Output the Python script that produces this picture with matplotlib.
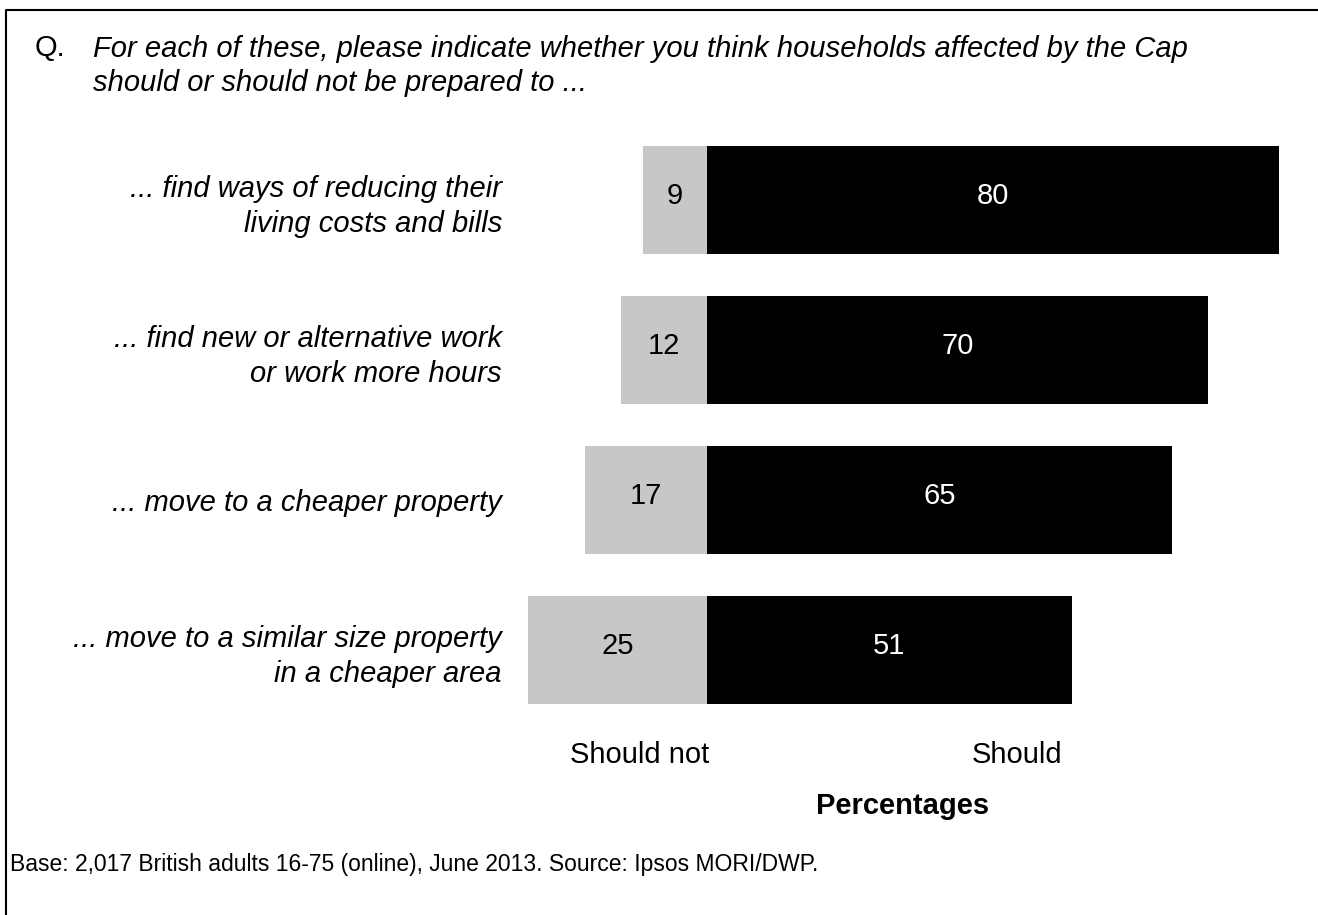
import matplotlib.pyplot as plt
from matplotlib import font_manager
from matplotlib.lines import Line2D

# Survey results (percent)
statements = [
    "... find ways of reducing their\nliving costs and bills",
    "... find new or alternative work\nor work more hours",
    "... move to a cheaper property",
    "... move to a similar size property\nin a cheaper area",
]
should_not = [9, 12, 17, 25]
should = [80, 70, 65, 51]

question = "For each of these, please indicate whether you think households affected by the Cap\nshould or should not be prepared to ..."
footnote = "Base: 2,017 British adults 16-75 (online), June 2013. Source: Ipsos MORI/DWP."

W, H = 1318, 915
GREY = "#c6c7c9"
FS = 21

plt.rcParams["font.family"] = ["Liberation Sans", "DejaVu Sans"]

# the base note is set in a condensed face when one is available
try:
    font_manager.findfont("Liberation Sans Narrow", fallback_to_default=False)
    note_family, note_size = ["Liberation Sans Narrow", "Liberation Sans"], 19.5
except ValueError:
    note_family, note_size = ["Liberation Sans", "DejaVu Sans"], 16.5


def fx(px):
    return px / W


def fy(py):
    return 1 - py / H


fig = plt.figure(figsize=(W / 100, H / 100), dpi=100)

# bar area: zero sits at x=707px, 7.15 px per percentage point
x0, x1 = -25.5, 85
left_px = 707 + x0 * 7.15
right_px = 707 + x1 * 7.15
top_px, bot_px = 125, 725
ax = fig.add_axes([fx(left_px), fy(bot_px), fx(right_px - left_px), (bot_px - top_px) / H])

ypos = list(range(len(statements)))
ax.barh(ypos, [-v for v in should_not], height=0.72, color=GREY, linewidth=0)
ax.barh(ypos, should, height=0.72, color="black", linewidth=0)

for y, n, s in zip(ypos, should_not, should):
    ax.text(-n / 2, y - 0.03, str(n), ha="center", va="center", fontsize=FS, color="black")
    ax.text(s / 2, y - 0.03, str(s), ha="center", va="center", fontsize=FS, color="white")

ax.set_xlim(x0, x1)
ax.set_ylim(len(statements) - 0.5, -0.5)
ax.set_xticks([])
ax.set_yticks(ypos)
ax.set_yticklabels(statements, fontsize=FS, style="italic", linespacing=1.3)
ax.tick_params(axis="y", length=0, pad=(left_px - 502) * 0.72)
for side in ax.spines.values():
    side.set_visible(False)

# question text
fig.text(fx(35), fy(48), "Q.", fontsize=FS, va="center")
fig.text(fx(93), fy(66), question, fontsize=FS, style="italic", va="center", linespacing=1.25)

# scale captions
fig.text(fx(640), fy(755), "Should not", fontsize=FS, ha="center", va="center")
fig.text(fx(1017), fy(755), "Should", fontsize=FS, ha="center", va="center")
fig.text(fx(903), fy(806), "Percentages", fontsize=FS, fontweight="bold", ha="center", va="center")

fig.text(fx(10), fy(865), footnote, fontsize=note_size, family=note_family, va="center")

# frame (left and top edges)
fig.add_artist(Line2D([fx(6), fx(6), fx(W)], [0, fy(10), fy(10)], color="black", linewidth=1.5))

fig.savefig("out.png", dpi=100)
